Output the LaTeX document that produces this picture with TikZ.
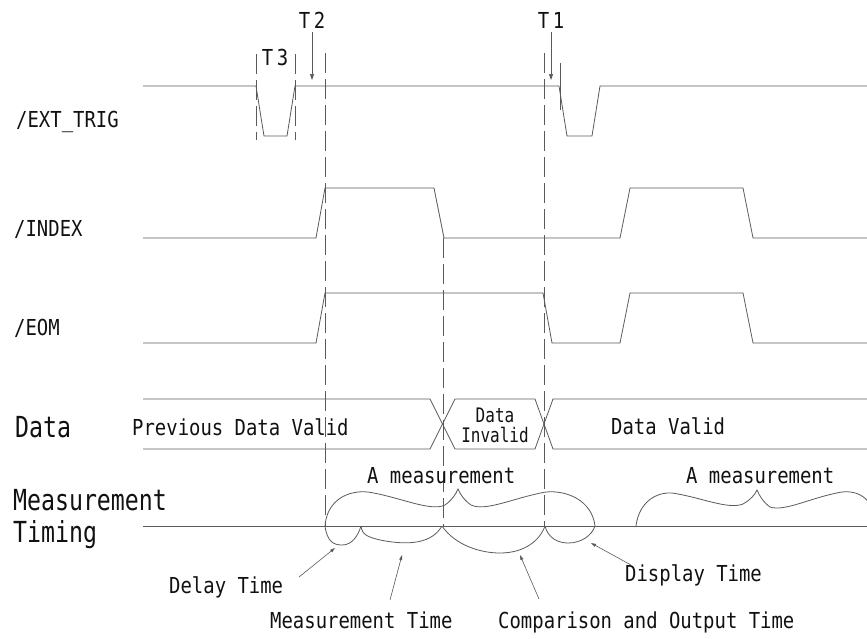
\documentclass[tikz,border=0pt]{standalone}
\usepackage{fontspec}
\usepackage{tikz}
\usetikzlibrary{arrows.meta}
\newfontfamily\tmono[FakeStretch=0.86]{DejaVu Sans Mono}
\newfontfamily\tmonobig[FakeStretch=0.8]{DejaVu Sans Mono}
\definecolor{wire}{HTML}{5A5A5A}
\definecolor{inktext}{HTML}{111111}

\begin{document}
\begin{tikzpicture}[x=1pt, y=-1pt,
  sig/.style={draw=wire, line width=0.8pt},
  guide/.style={draw=wire, line width=0.7pt, dash pattern=on 20pt off 6pt},
  lbl/.style={inner sep=0pt, anchor=base west, text=inktext, font=\tmono\fontsize{22}{26}\selectfont},
  biglbl/.style={lbl, font=\tmonobig\fontsize{29}{34}\selectfont},
  tip/.style={draw=wire, line width=0.7pt, -{Triangle[length=6pt, width=4pt]}},
  callout/.style={draw=wire, line width=0.6pt, -{Triangle[length=5pt, width=3pt]}}]
  \useasboundingbox (0,0) rectangle (867,638);

  % signal names
  \node[lbl] (exttrig) at (16,127) {/EXT\_TRIG};
  \node[lbl] (index) at (14,236) {/INDEX};
  \node[lbl] (eom) at (14,335) {/EOM};
  \node[biglbl] (data) at (15,437) {Data};
  \node[biglbl] (meas) at (13,510) {Measurement};
  \node[biglbl] (timing) at (13,542) {Timing};

  % waveforms
  \draw[sig] (143,86) -- (256,86) -- (264,136) -- (287,136) -- (295,86) -- (559,86)
    -- (567,136) -- (592,136) -- (600,86) -- (867,86);
  \draw[sig] (143,238) -- (316,238) -- (325,188) -- (434,188) -- (444,238) -- (620,238)
    -- (630,188) -- (743,188) -- (753,238) -- (867,238);
  \draw[sig] (143,343) -- (316,343) -- (325,293) -- (543,293) -- (552,343) -- (620,343)
    -- (630,293) -- (743,293) -- (753,343) -- (867,343);
  \draw[sig] (143,399) -- (430,399) -- (455,449) -- (535,449) -- (553,399) -- (867,399);
  \draw[sig] (143,449) -- (430,449) -- (455,399) -- (535,399) -- (553,449) -- (867,449);
  \draw[sig] (143,526) -- (867,526);

  % guide lines
  \foreach \x/\ya/\yb in {325/53/526, 544/53/526, 443/238/526, 256/54/140, 295/54/140} {
    \draw[guide] (\x,\ya) -- (\x,\yb);
  }
  \draw[sig] (560,63) -- (560,110);

  % T marks
  \node[lbl, anchor=base] (t3) at (275,65) {T\,3};
  \node[lbl, anchor=base] (t2) at (312,28) {T\,2};
  \node[lbl, anchor=base] (t1) at (551,28) {T\,1};
  \coordinate (t2top) at (312,32);
  \coordinate (t2tip) at (312,80);
  \coordinate (t1top) at (551,32);
  \coordinate (t1tip) at (551,80);
  \draw[tip] (t2top) -- (t2tip);
  \draw[tip] (t1top) -- (t1tip);

  % data states
  \node[lbl] (prevvalid) at (132,435) {Previous Data Valid};
  \node[lbl, anchor=center, align=center, font=\tmonobig\fontsize{20}{20}\selectfont] (invalid) at (495,425) {Data\\Invalid};
  \node[lbl] (valid) at (611,434) {Data Valid};

  % measurement braces
  \node[lbl] (ameas1) at (367,483) {A measurement};
  \node[lbl] (ameas2) at (686,483) {A measurement};
  \draw[sig] (325,526) .. controls (327,500) and (348,490) .. (368,492)
    .. controls (400,497) and (430,512) .. (445,505) .. controls (452,500) and (456,494) .. (458,489)
    .. controls (460,494) and (464,500) .. (471,505) .. controls (486,512) and (516,497) .. (546,492)
    .. controls (566,490) and (592,500) .. (595,526);
  \draw[sig] (636,526) .. controls (639,502) and (656,492) .. (672,493)
    .. controls (700,497) and (728,510) .. (743,504) .. controls (750,500) and (755,495) .. (757,490)
    .. controls (759,495) and (763,502) .. (770,507) .. controls (785,512) and (812,497) .. (842,492)
    .. controls (860,490) and (874,500) .. (878,526);

  % time segments
  \draw[sig] (325,526) .. controls (327,541) and (333,545) .. (342,545)
    .. controls (352,545) and (358,536) .. (361,526);
  \draw[sig] (361,526) .. controls (362,535) and (368,537) .. (380,540)
    .. controls (410,546) and (432,543) .. (442,526);
  \draw[sig] (442,526) .. controls (455,545) and (480,553) .. (500,553)
    .. controls (525,553) and (540,540) .. (545,526);
  \draw[sig] (545,526) .. controls (548,538) and (558,543) .. (568,543)
    .. controls (582,543) and (592,535) .. (595,526);

  % callouts
  \node[lbl] (delay) at (169,593) {Delay Time};
  \node[lbl] (meastime) at (270,628) {Measurement Time};
  \node[lbl] (compare) at (498,628) {Comparison and Output Time};
  \node[lbl] (display) at (625,581) {Display Time};
  \coordinate (delaytail) at (299,577);
  \coordinate (delaytip) at (335,548);
  \coordinate (meastail) at (390,600);
  \coordinate (meastip) at (402,555);
  \coordinate (comptail) at (539,599);
  \coordinate (comptip) at (520,555);
  \coordinate (disptail) at (631,565);
  \coordinate (disptip) at (591,543);
  \draw[callout] (delaytail) -- (delaytip);
  \draw[callout] (meastail) -- (meastip);
  \draw[callout] (comptail) -- (comptip);
  \draw[callout] (disptail) -- (disptip);
\end{tikzpicture}
\end{document}
